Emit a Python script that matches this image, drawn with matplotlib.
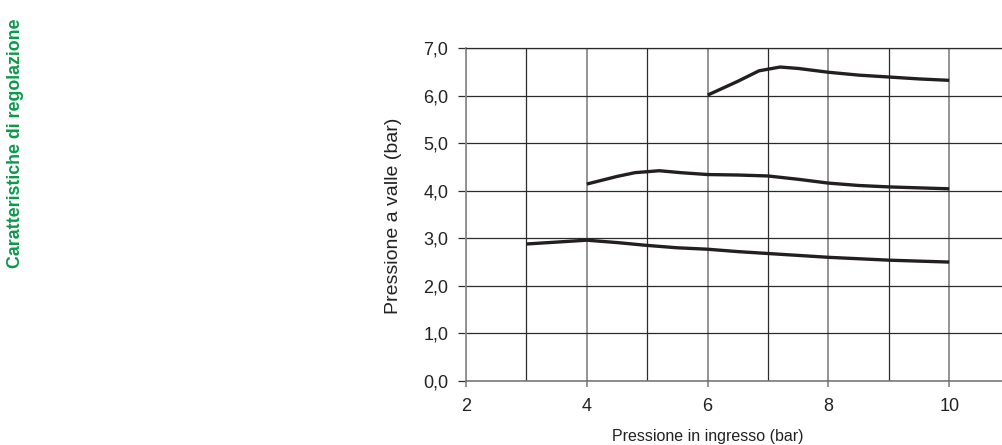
import matplotlib
matplotlib.use("Agg")
import matplotlib.pyplot as plt

plt.rcParams['font.family'] = ['Liberation Sans', 'DejaVu Sans']

# curve: downstream pressure vs inlet pressure
x_low = [3, 3.5, 4, 4.5, 5, 5.5, 6, 6.5, 7, 7.5, 8, 8.5, 9, 9.5, 10]
p_low = [2.88, 2.92, 2.96, 2.91, 2.85, 2.80, 2.77, 2.72, 2.68, 2.64, 2.60, 2.57, 2.54, 2.52, 2.50]

x_mid = [4, 4.5, 4.8, 5.2, 5.55, 6, 6.5, 7, 7.5, 8, 8.5, 9, 9.5, 10]
p_mid = [4.14, 4.30, 4.38, 4.42, 4.38, 4.34, 4.33, 4.31, 4.24, 4.16, 4.11, 4.08, 4.06, 4.04]

x_high = [6, 6.5, 6.85, 7.2, 7.5, 8, 8.5, 9, 9.5, 10]
p_high = [6.01, 6.30, 6.52, 6.60, 6.57, 6.49, 6.43, 6.39, 6.35, 6.32]

x_ticks = [2, 4, 6, 8, 10]
x_minor = [3, 5, 7, 9]
y_ticks = [0, 1, 2, 3, 4, 5, 6, 7]
y_labels = ["0,0", "1,0", "2,0", "3,0", "4,0", "5,0", "6,0", "7,0"]

dark = "#2b2b2b"
grey = "#8c8c8c"
line_col = "#231f20"
green = "#0a9a48"
text_col = "#222222"

fig = plt.figure(figsize=(10.03, 4.45), dpi=100)
ax = fig.add_axes([466 / 1003, 1 - 381 / 445, 1 - 466 / 1003, 333 / 445])

ax.set_xlim(2, 10.89)
ax.set_ylim(0, 7)

ax.set_xticks(x_ticks)
ax.set_xticks(x_minor, minor=True)
ax.set_yticks(y_ticks)
ax.set_yticklabels(y_labels)

ax.grid(True, which='major', axis='x', color=grey, linewidth=1.3)
ax.grid(True, which='minor', axis='x', color=dark, linewidth=0.9)
ax.grid(True, which='major', axis='y', color=dark, linewidth=0.9)
ax.set_axisbelow(True)

ax.tick_params(axis='x', which='major', length=4.5, width=1.3, color=grey, pad=8,
               labelsize=13, labelcolor=text_col)
ax.tick_params(axis='x', which='minor', length=0)
ax.tick_params(axis='y', length=5.8, width=0.9, color=dark, pad=7,
               labelsize=13, labelcolor=text_col)

ax.spines['right'].set_visible(False)
ax.spines['top'].set_color(dark)
ax.spines['top'].set_linewidth(0.9)
ax.spines['left'].set_color(grey)
ax.spines['left'].set_linewidth(1.3)
ax.spines['bottom'].set_color("#707070")
ax.spines['bottom'].set_linewidth(1.1)

for xs, ys in [(x_low, p_low), (x_mid, p_mid), (x_high, p_high)]:
    ax.plot(xs, ys, color=line_col, linewidth=2.4, solid_capstyle='butt',
            solid_joinstyle='round', zorder=3)

ax.set_xlabel("Pressione in ingresso (bar)", fontsize=11.5, color=text_col)
ax.set_ylabel("Pressione a valle (bar)", fontsize=14, color=text_col)
ax.xaxis.set_label_coords(0.45, -0.145)
ax.yaxis.set_label_coords(-0.119, 0.495)

fig.text(0.0155, 1 - 268 / 445, "Caratteristiche di regolazione", rotation=90,
         ha='center', va='bottom', fontsize=12.8, fontweight='bold', color=green)

fig.savefig("out.png", dpi=100)
